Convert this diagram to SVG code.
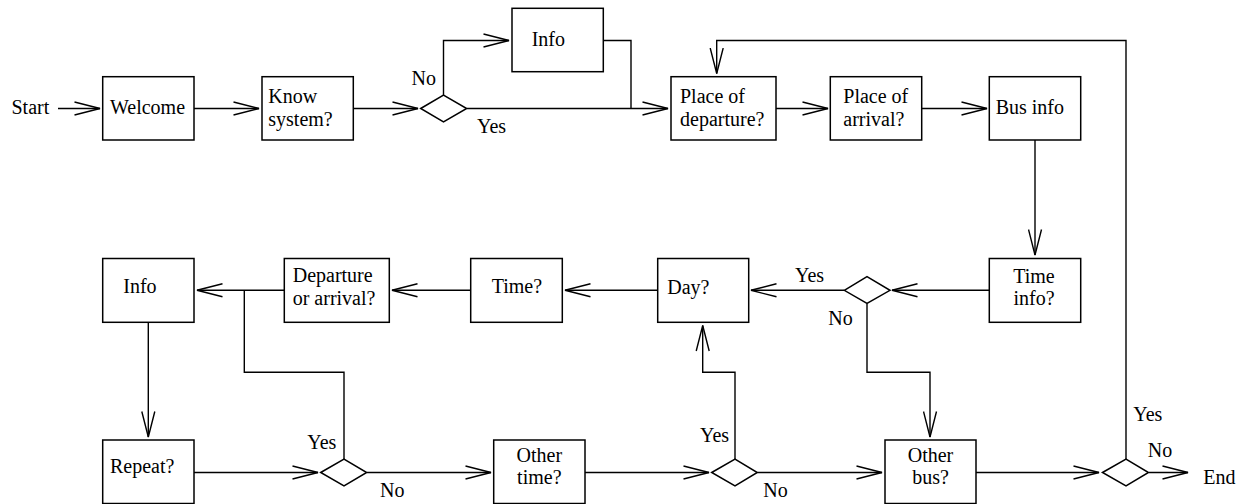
<svg xmlns="http://www.w3.org/2000/svg" width="1248" height="504" viewBox="0 0 1248 504">
<style>
.box{fill:#fff;stroke:#000;stroke-width:1.5}
.dia{fill:#fff;stroke:#000;stroke-width:1.5}
.ln{fill:none;stroke:#000;stroke-width:1.4;marker-end:url(#ah)}
.pl{fill:none;stroke:#000;stroke-width:1.4}
text{font-family:"Liberation Serif","Times New Roman",serif;font-size:20px;fill:#000}
.c{text-anchor:middle}
</style>
<defs>
<marker id="ah" viewBox="0 0 27 15" refX="26" refY="7.5" markerWidth="27" markerHeight="15" markerUnits="userSpaceOnUse" orient="auto">
<path d="M0.5,1 L26,7.5 L0.5,14" fill="none" stroke="#000" stroke-width="1.4"/>
</marker>
</defs>
<rect width="1248" height="504" fill="#fff"/>
<g id="connectors">
<path class="ln" d="M58,108.5 H100"/>
<path class="ln" d="M194,108.5 H259"/>
<path class="ln" d="M353,108.5 H418"/>
<path class="ln" d="M443.5,95 V40.5 H509"/>
<path class="pl" d="M603,40.5 H631 V108.5"/>
<path class="ln" d="M467,108.5 H668"/>
<path class="ln" d="M776,108.5 H828"/>
<path class="ln" d="M922,108.5 H987"/>
<path class="ln" d="M1035,140 V255"/>
<path class="ln" d="M989,290.3 H892"/>
<path class="ln" d="M844.3,290.3 H751"/>
<path class="ln" d="M657.7,290.3 H565"/>
<path class="ln" d="M470.7,290.3 H392"/>
<path class="ln" d="M284.3,290.3 H197"/>
<path class="pl" d="M244.3,290.3 V372.3 H344 V459"/>
<path class="ln" d="M148.3,322.3 V437"/>
<path class="ln" d="M194,472.5 H318"/>
<path class="ln" d="M367,472.5 H491"/>
<path class="ln" d="M585,472.5 H709"/>
<path class="ln" d="M735,459 V372.3 H702.7 V325.5"/>
<path class="ln" d="M757.5,472.5 H882"/>
<path class="ln" d="M867,303.5 V372.3 H930 V437"/>
<path class="ln" d="M976,472.5 H1099"/>
<path class="ln" d="M1149,472.5 H1188"/>
<path class="ln" d="M1126,459 V40.5 H716.7 V73.5"/>
</g>
<g id="labels">
<text x="11.5" y="114.3">Start</text>
<text x="411.5" y="85">No</text>
<text x="477" y="132.7">Yes</text>
<text x="795" y="281.7">Yes</text>
<text x="828.3" y="325">No</text>
<text x="307.3" y="449">Yes</text>
<text x="380" y="496.7">No</text>
<text x="700" y="441.7">Yes</text>
<text x="763.3" y="496.7">No</text>
<text x="1133.3" y="420.7">Yes</text>
<text x="1147.7" y="456.7">No</text>
<text x="1203.3" y="484">End</text>
</g>
<g id="welcome"><rect class="box" x="102.7" y="76.7" width="91.3" height="63.3"/><text x="110" y="114.3">Welcome</text></g>
<g id="know"><rect class="box" x="262" y="76.7" width="91.3" height="63.3"/><text x="268.3" y="103">Know</text><text x="268.3" y="125.5">system?</text></g>
<g id="d1"><polygon class="dia" points="420.7,108.5 443.5,95 466.7,108.5 443.5,122"/></g>
<g id="info-top"><rect class="box" x="512" y="8.3" width="91.3" height="63.4"/><text x="531.7" y="46">Info</text></g>
<g id="place-dep"><rect class="box" x="671" y="76.7" width="105" height="63.3"/><text x="680" y="103">Place of</text><text x="680" y="125.5">departure?</text></g>
<g id="place-arr"><rect class="box" x="830.3" y="76.7" width="91.4" height="63.3"/><text x="843.3" y="103">Place of</text><text x="843.3" y="125.5">arrival?</text></g>
<g id="bus-info"><rect class="box" x="989.3" y="76.7" width="91.4" height="63.3"/><text x="995.7" y="114.3">Bus info</text></g>
<g id="time-info"><rect class="box" x="989.3" y="258.5" width="91.4" height="63.8"/><text class="c" x="1034" y="282.7">Time</text><text class="c" x="1034" y="305">info?</text></g>
<g id="d2"><polygon class="dia" points="844.3,290.3 867,276.7 890,290.3 867,303.5"/></g>
<g id="day"><rect class="box" x="657.7" y="258.5" width="91" height="63.8"/><text x="667.3" y="293.5">Day?</text></g>
<g id="time"><rect class="box" x="470.7" y="258.5" width="91.6" height="63.8"/><text x="491.7" y="293">Time?</text></g>
<g id="dep-arr"><rect class="box" x="284.3" y="258.5" width="105" height="63.8"/><text x="292.7" y="282.3">Departure</text><text x="292.7" y="305">or arrival?</text></g>
<g id="info-left"><rect class="box" x="102.7" y="258.5" width="91.3" height="63.8"/><text x="123.3" y="293.3">Info</text></g>
<g id="repeat"><rect class="box" x="102.7" y="440" width="91.3" height="63.5"/><text x="110" y="473.3">Repeat?</text></g>
<g id="d3"><polygon class="dia" points="320.7,472.5 344,459 366.7,472.5 344,486"/></g>
<g id="other-time"><rect class="box" x="493.7" y="440" width="91.3" height="63.5"/><text class="c" x="539.3" y="461.7">Other</text><text class="c" x="539.3" y="484">time?</text></g>
<g id="d4"><polygon class="dia" points="711.7,472.5 735,459 757.3,472.5 735,486"/></g>
<g id="other-bus"><rect class="box" x="885" y="440" width="91" height="63.5"/><text class="c" x="930.5" y="461.7">Other</text><text class="c" x="930.5" y="484">bus?</text></g>
<g id="d5"><polygon class="dia" points="1102.5,472.5 1126,459 1148.5,472.5 1126,486"/></g>
</svg>
